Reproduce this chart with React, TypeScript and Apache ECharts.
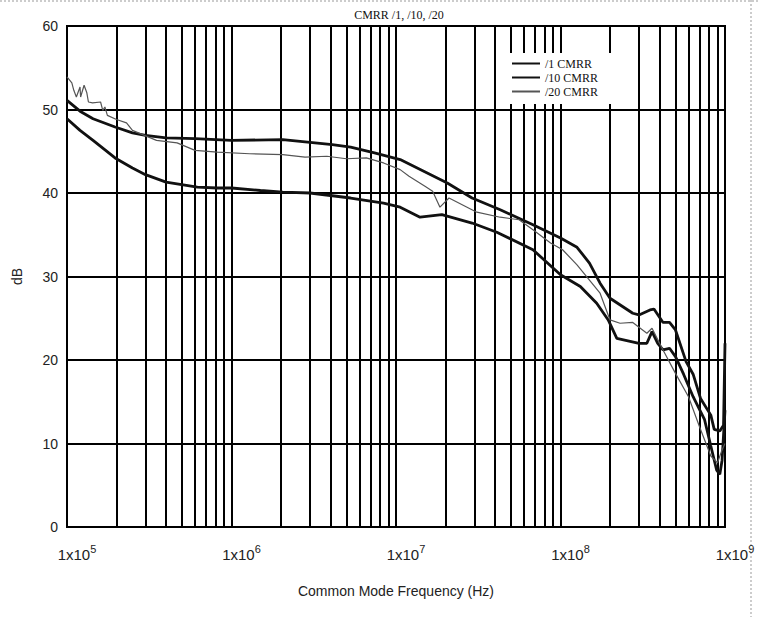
import React, { useEffect, useRef } from "react";
import * as echarts from "echarts";

const title = "CMRR /1, /10, /20";
const xAxisName = "Common Mode Frequency (Hz)";
const yAxisName = "dB";
const seriesNames = ["/1 CMRR", "/10 CMRR", "/20 CMRR"];

// frequency (Hz), dB
const cmrr1: [number, number][] = [
  [1e5, 51.1], [1.2e5, 49.8], [1.44e5, 48.9], [1.96e5, 47.9], [2.5e5, 47.2],
  [3.0e5, 46.9], [4.0e5, 46.6], [6.0e5, 46.5], [1.0e6, 46.3], [2.05e6, 46.4],
  [4.1e6, 45.8], [5.3e6, 45.5], [7.4e6, 44.8], [1.06e7, 44.0], [2.05e7, 41.2],
  [2.9e7, 39.4], [4.3e7, 38.0], [6.8e7, 36.2], [1.0e8, 34.6], [1.26e8, 33.5],
  [1.5e8, 31.6], [1.74e8, 29.2], [2.0e8, 27.4], [2.75e8, 25.6], [3.0e8, 25.4],
  [3.5e8, 26.0], [3.7e8, 26.1], [4.2e8, 24.5], [4.6e8, 24.5], [5.0e8, 23.6],
  [5.8e8, 19.8], [6.4e8, 18.3], [7.1e8, 15.4], [8.2e8, 13.4], [8.6e8, 11.7],
  [9.3e8, 11.5], [9.8e8, 12.2], [1e9, 22.0],
];

const cmrr10: [number, number][] = [
  [1e5, 48.9], [1.2e5, 47.5], [1.44e5, 46.3], [1.96e5, 44.2], [2.5e5, 43.0],
  [3.0e5, 42.2], [4.0e5, 41.3], [6.2e5, 40.7], [8.2e5, 40.6], [1.0e6, 40.6],
  [1.5e6, 40.3], [2.05e6, 40.1], [3.0e6, 40.0], [5.3e6, 39.4], [8.4e6, 38.8],
  [1.06e7, 38.3], [1.4e7, 37.1], [1.9e7, 37.4], [2.9e7, 36.4], [4.1e7, 35.3],
  [6.8e7, 33.2], [1.0e8, 30.2], [1.32e8, 28.8], [1.66e8, 26.8], [1.95e8, 24.8],
  [2.2e8, 22.6], [3.0e8, 22.0], [3.35e8, 22.0], [3.6e8, 23.4], [3.9e8, 22.0],
  [4.2e8, 21.2], [4.6e8, 21.4], [5.0e8, 20.4], [5.6e8, 18.3], [6.4e8, 15.6],
  [7.5e8, 12.9], [8.2e8, 9.7], [8.9e8, 6.8], [9.3e8, 6.3], [9.6e8, 8.0],
  [1e9, 14.0],
];

const cmrr20: [number, number][] = [
  [1e5, 53.9], [1.07e5, 53.2], [1.1e5, 52.3], [1.14e5, 51.5], [1.2e5, 52.7],
  [1.21e5, 51.5], [1.27e5, 52.9], [1.32e5, 52.0], [1.35e5, 50.9], [1.43e5, 50.8],
  [1.6e5, 50.9], [1.65e5, 49.9], [1.7e5, 50.3], [1.76e5, 49.3], [2.0e5, 48.8],
  [2.3e5, 48.4], [2.5e5, 47.5], [3.5e5, 46.3], [4.67e5, 46.0], [6.0e5, 45.1],
  [8.2e5, 44.9], [1.29e6, 44.7], [2.05e6, 44.6], [2.8e6, 44.3], [3.8e6, 44.4],
  [5.0e6, 44.1], [6.6e6, 44.2], [8.4e6, 43.6], [1.06e7, 42.8], [1.2e7, 42.0],
  [1.5e7, 40.8], [1.67e7, 40.2], [1.85e7, 38.3], [2.1e7, 39.4], [3.1e7, 37.7],
  [4.3e7, 37.1], [5.6e7, 36.8], [6.8e7, 35.6], [8.7e7, 34.0], [1.03e8, 33.2],
  [1.26e8, 31.4], [1.74e8, 28.0], [2.0e8, 24.8], [2.3e8, 24.4], [2.75e8, 24.5],
  [3.35e8, 23.2], [3.6e8, 23.8], [4.2e8, 21.2], [5.0e8, 18.4], [6.0e8, 15.6],
  [7.0e8, 12.0], [8.2e8, 8.5], [9.0e8, 7.7], [9.5e8, 9.0], [1e9, 10.0],
];

const xMin = 1e5;
const xMax = 1e9;
const yTicks = [0, 10, 20, 30, 40, 50, 60];
const decades = [1e5, 1e6, 1e7, 1e8];
const minorMultipliers = [2, 3, 4, 5, 6, 7, 8, 9];

export default function App() {
  const ref = useRef<HTMLDivElement>(null);

  useEffect(() => {
    if (!ref.current) return;
    const chart = echarts.init(ref.current, null, { renderer: "svg" });

    const minorLines: { xAxis: number }[] = [];
    decades.forEach((d) => minorMultipliers.forEach((m) => minorLines.push({ xAxis: d * m })));

    const sansFont = "'Liberation Sans', Arial, sans-serif";
    const serifFont = "'Liberation Serif', 'Times New Roman', serif";

    chart.setOption({
      animation: false,
      backgroundColor: "#ffffff",
      title: {
        text: title,
        left: 394,
        textAlign: "center",
        top: 4,
        textStyle: { fontFamily: serifFont, fontSize: 12, fontWeight: "normal", color: "#111" },
      },
      legend: {
        orient: "vertical",
        left: 497,
        top: 53,
        padding: [4, 34, 6, 14],
        backgroundColor: "#ffffff",
        z: 10,
        itemWidth: 28,
        itemHeight: 10,
        itemGap: 1,
        itemStyle: { opacity: 0 },
        textStyle: { fontFamily: serifFont, fontSize: 12, color: "#111", lineHeight: 13 },
        data: seriesNames,
      },
      grid: {
        left: 67,
        right: 35,
        top: 26,
        bottom: 90,
        show: true,
        borderColor: "#000",
        borderWidth: 2,
      },
      xAxis: {
        type: "log",
        logBase: 10,
        min: xMin,
        max: xMax,
        name: xAxisName,
        nameLocation: "middle",
        nameGap: 57,
        nameTextStyle: { fontFamily: sansFont, fontSize: 14, color: "#222" },
        axisLine: { lineStyle: { color: "#000", width: 2 } },
        axisTick: { show: false },
        splitLine: { show: true, lineStyle: { color: "#000", width: 2 } },
        axisLabel: {
          margin: 16,
          padding: [0, 0, 0, 20],
          fontFamily: sansFont,
          fontSize: 15,
          color: "#222",
          formatter: (v: number) => `1x10{sup|${Math.round(Math.log10(v))}}`,
          rich: {
            sup: { fontFamily: sansFont, fontSize: 11, color: "#222", verticalAlign: "top", padding: [0, 0, 12, 0] },
          },
        },
      },
      yAxis: {
        type: "value",
        min: yTicks[0],
        max: yTicks[yTicks.length - 1],
        interval: 10,
        name: yAxisName,
        nameLocation: "middle",
        nameGap: 43,
        nameTextStyle: { fontFamily: sansFont, fontSize: 14, color: "#222" },
        axisLine: { show: true, lineStyle: { color: "#000", width: 2 } },
        axisTick: { show: false },
        splitLine: { show: true, lineStyle: { color: "#000", width: 2 } },
        axisLabel: { margin: 9, fontFamily: sansFont, fontSize: 14, color: "#222" },
      },
      series: [
        {
          name: "grid-minor",
          type: "line",
          data: [],
          silent: true,
          markLine: {
            silent: true,
            symbol: ["none", "none"],
            label: { show: false },
            lineStyle: { color: "#000", width: 2, type: "solid" },
            data: minorLines,
          },
        },
        {
          name: seriesNames[0],
          type: "line",
          data: cmrr1,
          symbol: "none",
          lineStyle: { color: "#111", width: 2.8 },
          itemStyle: { color: "#111" },
          z: 5,
        },
        {
          name: seriesNames[1],
          type: "line",
          data: cmrr10,
          symbol: "none",
          lineStyle: { color: "#111", width: 2.8 },
          itemStyle: { color: "#111" },
          z: 5,
        },
        {
          name: seriesNames[2],
          type: "line",
          data: cmrr20,
          symbol: "none",
          lineStyle: { color: "#555", width: 1.2 },
          itemStyle: { color: "#555" },
          z: 6,
        },
      ],
      graphic: [
        { type: "line", shape: { x1: 0, y1: 1, x2: 760, y2: 1 }, style: { stroke: "#999", lineWidth: 1, lineDash: [2, 2] } },
        { type: "line", shape: { x1: 751, y1: 0, x2: 751, y2: 617 }, style: { stroke: "#999", lineWidth: 1, lineDash: [2, 2] } },
      ],
    });

    return () => chart.dispose();
  }, []);

  return (
    <div
      ref={ref}
      style={{ position: "fixed", left: 0, top: 0, width: 760, height: 617, background: "#fff" }}
    />
  );
}
